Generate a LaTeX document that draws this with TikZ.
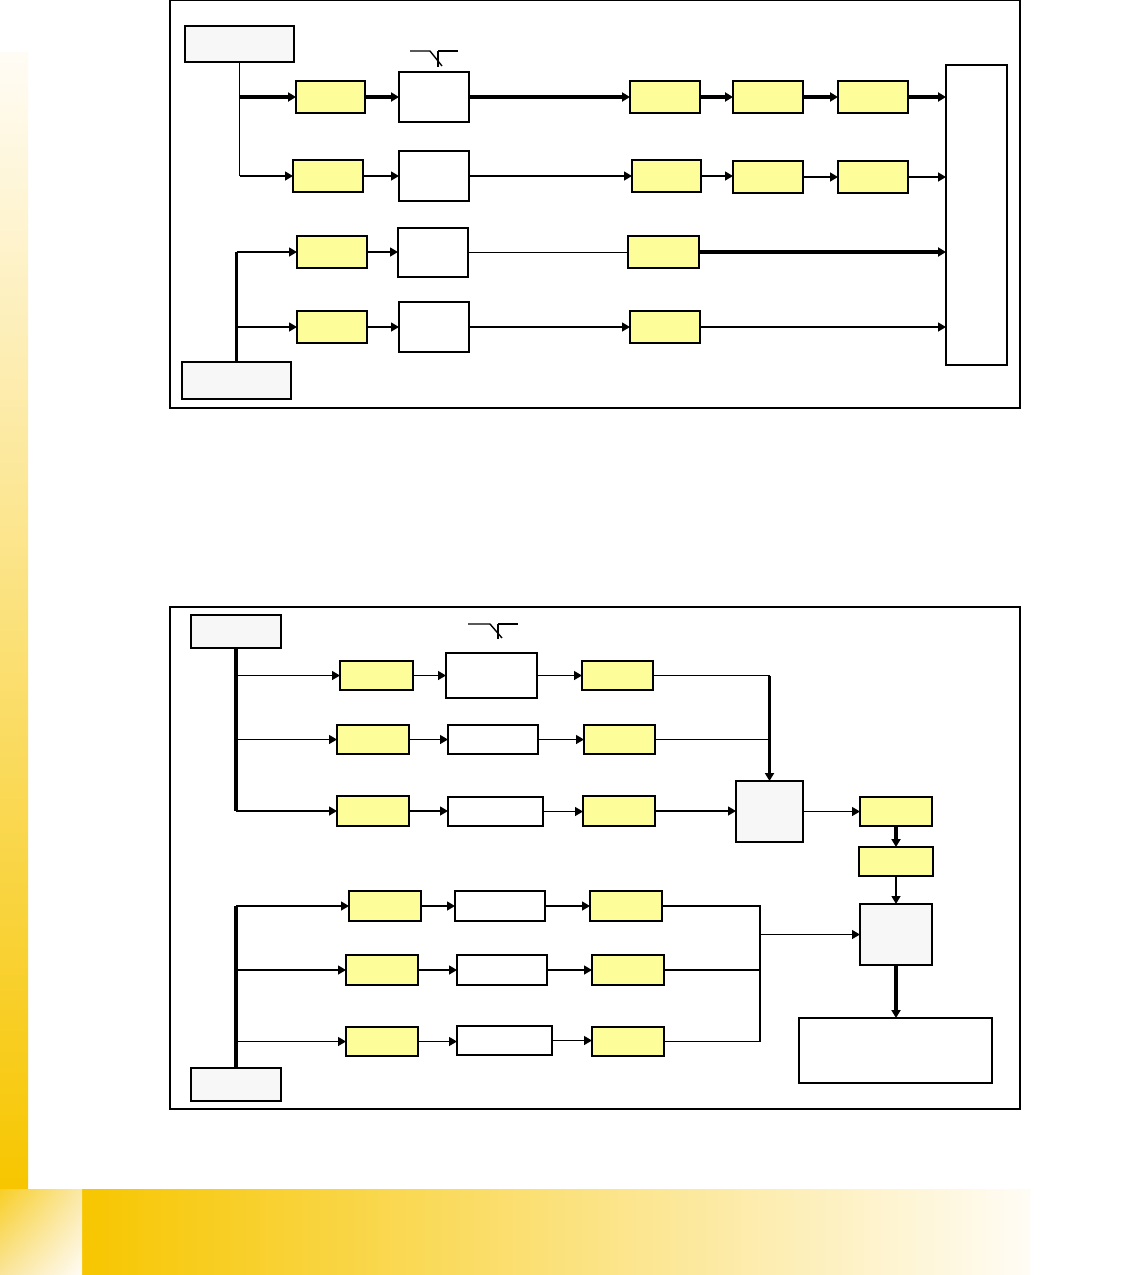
\documentclass[tikz,border=0pt]{standalone}
\usetikzlibrary{arrows.meta,fit,shadings}
\definecolor{gold}{RGB}{247,198,0}
\definecolor{goldmid}{RGB}{248,222,130}
\definecolor{paleg}{RGB}{255,252,245}
\definecolor{ylw}{RGB}{253,253,154}
\definecolor{gry}{RGB}{247,247,247}
\tikzset{
  box/.style={draw=black, line width=1.5pt, inner sep=0pt, outer sep=0pt},
  yb/.style={box, fill=ylw},
  wb/.style={box, fill=white},
  gb/.style={box, fill=gry},
  ln/.style={line width=1.4pt},
  thk/.style={line width=3.2pt},
  arr/.style={-{Triangle[length=8pt,width=9pt]}},
}
\newcommand\bx[6]{\node[#2, fit={(#3,#4)(#5,#6)}] (#1) {};}
\begin{document}
\begin{tikzpicture}[x=1pt,y=-1pt]
\useasboundingbox (0,0) rectangle (1134,1275);
\fill[white] (0,0) rectangle (1134,1275);
% decorative gradient bars
\shade[top color=paleg, bottom color=gold] (0,52) rectangle (28,1188);
\shade[left color=gold, right color=paleg] (82,1189) rectangle (1030,1275);
\shade[upper left=gold!85, upper right=goldmid!70, lower left=goldmid!80, lower right=paleg] (0,1189) rectangle (82,1275);
% panel frames
\draw[ln] (170,0.7) rectangle (1020,408);
\draw[ln] (170,607) rectangle (1020,1109);

% ---------- top panel ----------
\bx{s1}{gb}{185}{26}{294}{62}
\bx{a1}{yb}{296}{81}{365}{113}
\bx{b1}{wb}{399}{72}{469}{122}
\bx{c1}{yb}{630}{81}{700}{113}
\bx{d1}{yb}{733}{81}{803}{113}
\bx{e1}{yb}{838}{81}{908}{113}
\bx{a2}{yb}{293}{160}{363}{192}
\bx{b2}{wb}{399}{151}{469}{201}
\bx{c2}{yb}{632}{160}{701}{192}
\bx{d2}{yb}{733}{161}{803}{193}
\bx{e2}{yb}{838}{161}{908}{193}
\bx{a3}{yb}{297}{236}{367}{268}
\bx{b3}{wb}{398}{228}{468}{277}
\bx{c3}{yb}{628}{236}{699}{268}
\bx{a4}{yb}{297}{311}{367}{343}
\bx{b4}{wb}{399}{302}{469}{352}
\bx{c4}{yb}{630}{311}{700}{343}
\bx{T}{wb}{946}{65}{1007}{365}
\bx{s2}{gb}{182}{362}{291}{399}

% switch symbol
\draw[ln] (410,51) -- (430,51) -- (442,66);
\draw[ln] (438,51) -- (438,67);
\draw[ln] (438,51) -- (458,51);

\draw[ln] (s1.south) -- (s1.south |- a2.west);
\draw[thk,arr] (s1.south |- a1.west) -- (a1.west);
\draw[ln,arr] (s1.south |- a2.west) -- (a2.west);
\draw[thk,arr] (a1.east) -- (a1.east -| b1.west);
\draw[thk,arr] (b1.east) -- (b1.east -| c1.west);
\draw[thk,arr] (c1.east) -- (c1.east -| d1.west);
\draw[thk,arr] (d1.east) -- (d1.east -| e1.west);
\draw[thk,arr] (e1.east) -- (e1.east -| T.west);
\draw[ln,arr] (a2.east) -- (a2.east -| b2.west);
\draw[ln,arr] (b2.east) -- (b2.east -| c2.west);
\draw[ln,arr] (c2.east) -- (c2.east -| d2.west);
\draw[ln,arr] (d2.east) -- (d2.east -| e2.west);
\draw[ln,arr] (e2.east) -- (e2.east -| T.west);

\draw[thk] (s2.north) -- (s2.north |- a3.west);
\draw[ln,arr] (s2.north |- a3.west) -- (a3.west);
\draw[ln,arr] (s2.north |- a4.west) -- (a4.west);
\draw[ln,arr] (a3.east) -- (a3.east -| b3.west);
\draw[ln] (b3.east) -- (b3.east -| c3.west);
\draw[thk,arr] (c3.east) -- (c3.east -| T.west);
\draw[ln,arr] (a4.east) -- (a4.east -| b4.west);
\draw[ln,arr] (b4.east) -- (b4.east -| c4.west);
\draw[ln,arr] (c4.east) -- (c4.east -| T.west);

% ---------- bottom panel ----------
\bx{s3}{gb}{191}{615}{281}{648}
\bx{p1}{yb}{340}{661}{413}{690}
\bx{q1}{wb}{446}{653}{537}{698}
\bx{r1}{yb}{582}{661}{653}{690}
\bx{p2}{yb}{337}{725}{409}{754}
\bx{q2}{wb}{448}{725}{538}{754}
\bx{r2}{yb}{584}{725}{655}{754}
\bx{p3}{yb}{337}{796}{409}{826}
\bx{q3}{wb}{448}{797}{543}{826}
\bx{r3}{yb}{583}{796}{655}{826}
\bx{M}{gb}{736}{781}{803}{842}
\bx{Y1}{yb}{860}{797}{932}{826}
\bx{Y2}{yb}{859}{847}{933}{876}
\bx{G}{gb}{860}{904}{932}{965}
\bx{O}{wb}{799}{1018}{992}{1083}
\bx{s4}{gb}{191}{1068}{281}{1101}
\bx{p4}{yb}{349}{891}{421}{921}
\bx{q4}{wb}{455}{891}{545}{921}
\bx{r4}{yb}{590}{891}{662}{921}
\bx{p5}{yb}{346}{955}{418}{985}
\bx{q5}{wb}{457}{955}{547}{985}
\bx{r5}{yb}{592}{955}{664}{985}
\bx{p6}{yb}{346}{1027}{418}{1056}
\bx{q6}{wb}{457}{1026}{552}{1055}
\bx{r6}{yb}{592}{1027}{664}{1056}

% switch symbol
\draw[ln] (468,624) -- (490,624) -- (502,638);
\draw[ln] (498,624) -- (498,639);
\draw[ln] (498,624) -- (518,624);

\draw[thk] (s3.south) -- (s3.south |- p3.west);
\draw[ln,arr] (s3.south |- p1.west) -- (p1.west);
\draw[ln,arr] (s3.south |- p2.west) -- (p2.west);
\draw[ln,arr] (s3.south |- p3.west) -- (p3.west);
\draw[ln,arr] (p1.east) -- (p1.east -| q1.west);
\draw[ln,arr] (q1.east) -- (q1.east -| r1.west);
\draw[ln,arr] (p2.east) -- (p2.east -| q2.west);
\draw[ln,arr] (q2.east) -- (q2.east -| r2.west);
\draw[ln,arr] (p3.east) -- (p3.east -| q3.west);
\draw[ln,arr] (q3.east) -- (q3.east -| r3.west);
\draw[ln] (r1.east) -- (r1.east -| M.north);
\draw[thk,arr] (r1.east -| M.north) -- (M.north);
\draw[ln] (r2.east) -- (r2.east -| M.north);
\draw[ln,arr] (r3.east) -- (r3.east -| M.west);
\draw[ln,arr] (M.east) -- (Y1.west);
\draw[thk,arr] (Y1.south) -- (Y1.south |- Y2.north);
\draw[ln,arr] (Y2.south) -- (Y2.south |- G.north);

\draw[thk] (s4.north) -- (s4.north |- p4.west);
\draw[ln,arr] (s4.north |- p4.west) -- (p4.west);
\draw[ln,arr] (s4.north |- p5.west) -- (p5.west);
\draw[ln,arr] (s4.north |- p6.west) -- (p6.west);
\draw[ln,arr] (p4.east) -- (p4.east -| q4.west);
\draw[ln,arr] (q4.east) -- (q4.east -| r4.west);
\draw[ln,arr] (p5.east) -- (p5.east -| q5.west);
\draw[ln,arr] (q5.east) -- (q5.east -| r5.west);
\draw[ln,arr] (p6.east) -- (p6.east -| q6.west);
\draw[ln,arr] (q6.east) -- (q6.east -| r6.west);
\coordinate (m2) at (760,934.5);
\draw[ln] (r4.east) -| (m2 |- r6.east) -- (r6.east);
\draw[ln] (r5.east) -- (r5.east -| m2);
\draw[ln,arr] (m2) -- (G.west);
\draw[thk,arr] (G.south) -- (G.south |- O.north);
\end{tikzpicture}
\end{document}
